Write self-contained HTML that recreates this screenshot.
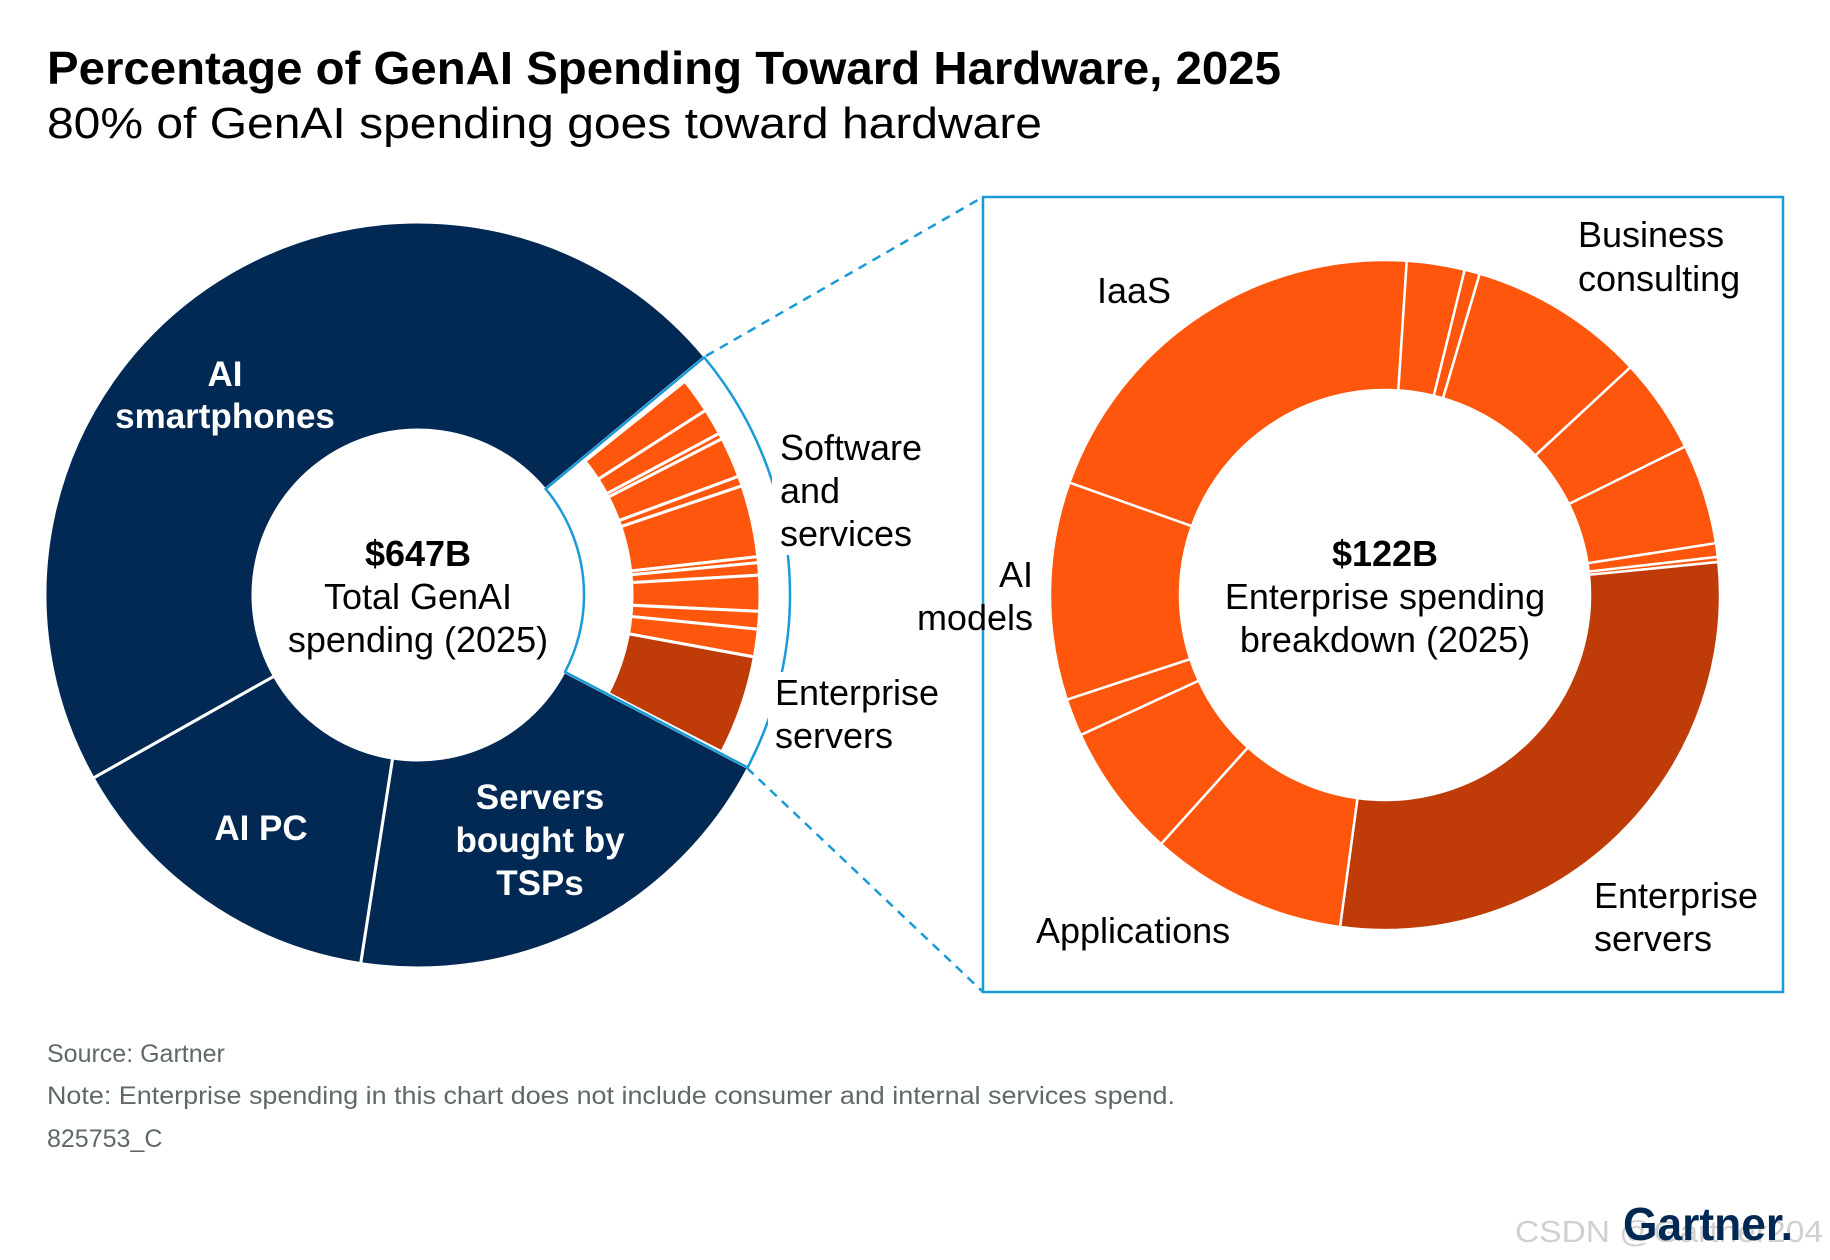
<!DOCTYPE html>
<html><head><meta charset="utf-8"><style>
html,body{margin:0;padding:0;background:#fff;}
svg{display:block;font-family:"Liberation Sans",sans-serif;}
</style></head><body>
<svg id="chart" width="1830" height="1260" viewBox="0 0 1830 1260" xmlns="http://www.w3.org/2000/svg">
<text x="47" y="84" font-size="46" font-weight="bold" fill="#000" textLength="1234" lengthAdjust="spacingAndGlyphs">Percentage of GenAI Spending Toward Hardware, 2025</text>
<text x="47" y="138" font-size="44" fill="#000" textLength="995" lengthAdjust="spacingAndGlyphs">80% of GenAI spending goes toward hardware</text>
<g id="leftDonut"></g>
<g id="rightDonut"></g>
<rect x="983" y="197" width="800" height="795" fill="none" stroke="#1a9ad6" stroke-width="2.5"/>
<line x1="706" y1="356" x2="983" y2="197" stroke="#1a9ad6" stroke-width="2.5" stroke-dasharray="9,7"/>
<line x1="747" y1="768" x2="983" y2="992" stroke="#1a9ad6" stroke-width="2.5" stroke-dasharray="9,7"/>
<g font-size="35" font-weight="bold" fill="#fff" text-anchor="middle">
<text x="225" y="386"><tspan x="225">AI</tspan><tspan x="225" y="428">smartphones</tspan></text>
<text x="261" y="840">AI PC</text>
<text x="540" y="809"><tspan x="540">Servers</tspan><tspan x="540" y="852">bought by</tspan><tspan x="540" y="895">TSPs</tspan></text>
</g>
<g font-size="36" fill="#000" text-anchor="middle">
<text x="418" y="566" font-weight="bold">$647B</text>
<text x="418" y="609"><tspan x="418">Total GenAI</tspan><tspan x="418" y="652">spending (2025)</tspan></text>
<text x="1385" y="566" font-weight="bold">$122B</text>
<text x="1385" y="609"><tspan x="1385">Enterprise spending</tspan><tspan x="1385" y="652">breakdown (2025)</tspan></text>
</g>
<g font-size="36" fill="#000">
<rect x="772" y="425" width="175" height="130" fill="#fff"/>
<text x="780" y="460"><tspan x="780">Software</tspan><tspan x="780" y="503">and</tspan><tspan x="780" y="546">services</tspan></text>
<rect x="768" y="672" width="190" height="90" fill="#fff"/>
<text x="775" y="705"><tspan x="775">Enterprise</tspan><tspan x="775" y="748">servers</tspan></text>
<text x="1097" y="303">IaaS</text>
<text x="1578" y="247"><tspan x="1578">Business</tspan><tspan x="1578" y="291">consulting</tspan></text>
<text x="1033" y="587" text-anchor="end"><tspan x="1033">AI</tspan><tspan x="1033" y="630">models</tspan></text>
<text x="1036" y="943">Applications</text>
<text x="1594" y="908"><tspan x="1594">Enterprise</tspan><tspan x="1594" y="951">servers</tspan></text>
</g>
<g font-size="25" fill="#5f6968">
<text x="47" y="1062">Source: Gartner</text>
<text x="47" y="1104" textLength="1128" lengthAdjust="spacingAndGlyphs">Note: Enterprise spending in this chart does not include consumer and internal services spend.</text>
<text x="47" y="1147">825753_C</text>
</g>
<text x="1515" y="1242" font-size="31" fill="#d0d0d0" textLength="308" lengthAdjust="spacingAndGlyphs">CSDN @Gartner204</text>
<text x="1623" y="1240" font-size="46" font-weight="bold" fill="#022954" textLength="170" lengthAdjust="spacingAndGlyphs">Gartner.</text>
</svg>
<script>
// Main donut ($B), clockwise from start angle
const mainCategories = ["Enterprise spending", "Servers bought by TSPs", "AI PC", "AI smartphones"];
const mainValues = [121, 128, 93, 305];
// Enterprise sub-slices drawn inside the exploded wedge (relative)
const subValues = [6, 4.5, 1, 6.9, 1.7, 12.2, 1, 2.1, 6.1, 3, 4.7, 16.9];
// Right donut enterprise breakdown ($B)
const entCategories = ["IaaS", "Other 1", "Other 2", "Business consulting", "Other 3", "Other 4", "Other 5", "Other 6", "Enterprise servers", "Applications", "Other 7", "Other 8", "AI models"];
const entValues = [25.1, 3.4, 0.9, 10.4, 5.6, 5.9, 0.8, 0.3, 35.0, 11.6, 7.9, 2.2, 12.8];

const NS = "http://www.w3.org/2000/svg";
function pt(cx, cy, r, a) { const t = a * Math.PI / 180; return [cx + r * Math.sin(t), cy - r * Math.cos(t)]; }
function arcPath(cx, cy, r0, r1, a0, a1) {
  const p0 = pt(cx, cy, r1, a0), p1 = pt(cx, cy, r1, a1), p2 = pt(cx, cy, r0, a1), p3 = pt(cx, cy, r0, a0);
  const lg = (a1 - a0) > 180 ? 1 : 0;
  return `M${p0[0]},${p0[1]} A${r1},${r1} 0 ${lg} 1 ${p1[0]},${p1[1]} L${p2[0]},${p2[1]} A${r0},${r0} 0 ${lg} 0 ${p3[0]},${p3[1]} Z`;
}
function sum(a) { return a.reduce((s, v) => s + v, 0); }

const left = document.getElementById("leftDonut");
const LC = [418, 595], LR = 373, Lr = 165, Lstart = 50.3;
const mainTotal = sum(mainValues);
let a = Lstart;
let wedge = null;
mainValues.forEach((v, i) => {
  const span = v / mainTotal * 360;
  if (i === 0) { wedge = [a, a + span]; }
  else {
    const p = document.createElementNS(NS, "path");
    p.setAttribute("d", arcPath(LC[0], LC[1], Lr, LR, a, a + span));
    p.setAttribute("fill", "#022954");
    p.setAttribute("stroke", "#fff");
    p.setAttribute("stroke-width", "3");
    
    
    left.appendChild(p);
  }
  a += span;
});
const subTotal = sum(subValues);
const s0 = wedge[0] + 1, s1 = wedge[1] - 0.3;
let b = s0;
subValues.forEach((v, i) => {
  const span = v / subTotal * (s1 - s0);
  const p = document.createElementNS(NS, "path");
  p.setAttribute("d", arcPath(LC[0], LC[1], 214, 342, b, b + span));
  p.setAttribute("fill", i === subValues.length - 1 ? "#bf3c08" : "#fe560c");
  p.setAttribute("stroke", "#fff");
  p.setAttribute("stroke-width", "3");
  
  
  left.appendChild(p);
  b += span;
});
const outline = document.createElementNS(NS, "path");
outline.setAttribute("d", arcPath(LC[0], LC[1], Lr + 1, LR - 1, wedge[0], wedge[1]));
outline.setAttribute("fill", "none");
outline.setAttribute("stroke", "#1a9ad6");
outline.setAttribute("stroke-width", "2.5");


left.appendChild(outline);

const right = document.getElementById("rightDonut");
const RC = [1385, 595], RR = 335, Rr = 205, Rstart = -70.4;
const entTotal = sum(entValues);
let c = Rstart;
entValues.forEach((v, i) => {
  const span = v / entTotal * 360;
  const p = document.createElementNS(NS, "path");
  p.setAttribute("d", arcPath(RC[0], RC[1], Rr, RR, c, c + span));
  p.setAttribute("fill", entCategories[i] === "Enterprise servers" ? "#bf3c08" : "#fe560c");
  p.setAttribute("stroke", "#fff");
  p.setAttribute("stroke-width", "2.5");
  
  
  right.appendChild(p);
  c += span;
});
</script>
</body></html>
